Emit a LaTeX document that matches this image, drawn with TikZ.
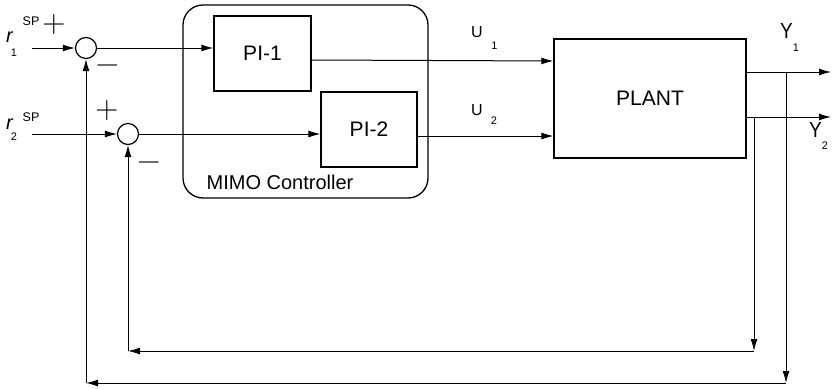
\documentclass[tikz,border=0pt]{standalone}
\usepackage{fontspec}
\setmainfont{Liberation Sans}
\newfontfamily\lmsign{Latin Modern Roman}
\usetikzlibrary{arrows.meta}
\begin{document}
\begin{tikzpicture}[x=1pt,y=-1pt,
  conn/.style={line width=1pt},
  arr/.style={conn,-{Latex[length=12pt,width=7pt]}},
  blk/.style={draw,line width=1.3pt,inner sep=0pt},
  sumc/.style={draw,circle,line width=1.2pt,minimum size=21pt,inner sep=0pt},
  lbl/.style={inner sep=0pt,anchor=center},
  fs/.style={font=\fontsize{#1}{#1}\selectfont},
  sign/.style={lbl,font=\lmsign\fontsize{32}{32}\selectfont}]
\useasboundingbox (0,0) rectangle (832,388);
% MIMO controller frame
\node[blk,rounded corners=20pt,minimum width=245pt,minimum height=193pt] (mimo) at (305.5,101.5) {};
\node[lbl,fs=20] (mimolbl) at (280,182) {MIMO Controller};
% blocks
\node[blk,minimum width=97pt,minimum height=75pt,fs=21] (pi1) at (262.5,53.5) {PI-1};
\node[blk,minimum width=96pt,minimum height=75pt,fs=21] (pi2) at (369,129.5) {PI-2};
\node[blk,minimum width=192pt,minimum height=119pt,fs=21] (plant) at (650,98.5) {PLANT};
% summing junctions
\node[sumc] (s1) at (86,48) {};
\node[sumc] (s2) at (128,134) {};
% coordinates
\coordinate (r1in) at (32,48);
\coordinate (r2in) at (32,134);
\coordinate (y60) at (0,60);
\coordinate (y61) at (0,61);
\coordinate (y136) at (0,136);
\coordinate (j1) at (786,72);
\coordinate (j2) at (754,117);
\coordinate (out1) at (831,72);
\coordinate (out2) at (831,117);
\coordinate (b1) at (786,383);
\coordinate (b2) at (754,351);
% inputs
\draw[arr] (r1in) -- (s1.west);
\draw[arr] (r2in) -- (s2.west);
\draw[arr] (s1.east) -- (s1.east -| pi1.west);
\draw[arr] (s2.east) -- (s2.east -| pi2.west);
% controller outputs
\draw[arr] (pi1.east |- y60) -- (plant.west |- y61);
\draw[arr] (pi2.east |- y136) -- (plant.west |- y136);
% plant outputs
\draw[arr] (plant.east |- j1) -- (out1);
\draw[arr] (plant.east |- j2) -- (out2);
% feedback 1
\draw[arr] (j1) -- (b1);
\draw[arr] (b1) -- (s1 |- b1);
\draw[arr] (s1 |- b1) -- (s1.south);
% feedback 2
\draw[arr] (j2) -- (b2);
\draw[arr] (b2) -- (s2 |- b2);
\draw[arr] (s2 |- b2) -- (s2.south);
% input labels
\node[lbl,fs=20] (r1) at (9.5,37.5) {\itshape r};
\node[lbl,fs=11] (r1sub) at (14,53) {1};
\node[lbl,fs=12.5] (r1sp) at (31,21) {SP};
\node[lbl,fs=20] (r2) at (9.5,124) {\itshape r};
\node[lbl,fs=11] (r2sub) at (14,137) {2};
\node[lbl,fs=12.5] (r2sp) at (31,117.5) {SP};
% signs
\node[sign] (p1) at (54,25) {+};
\node[sign] (m1) at (107.5,69) {−};
\node[sign] (p2) at (107,111) {+};
\node[sign] (m2) at (149,166) {−};
% U labels
\node[lbl,fs=16] (u1) at (477,32) {U};
\node[lbl,fs=11] (u1sub) at (494.5,45.5) {1};
\node[lbl,fs=16] (u2) at (477,110) {U};
\node[lbl,fs=11] (u2sub) at (494,121) {2};
% Y labels
\node[lbl,fs=19,yscale=1.15] (y1) at (786.5,31) {Y};
\node[lbl,fs=11] (y1sub) at (796,48) {1};
\node[lbl,fs=19,yscale=1.15] (y2) at (815.5,129.5) {Y};
\node[lbl,fs=11] (y2sub) at (825,146) {2};
\end{tikzpicture}
\end{document}
